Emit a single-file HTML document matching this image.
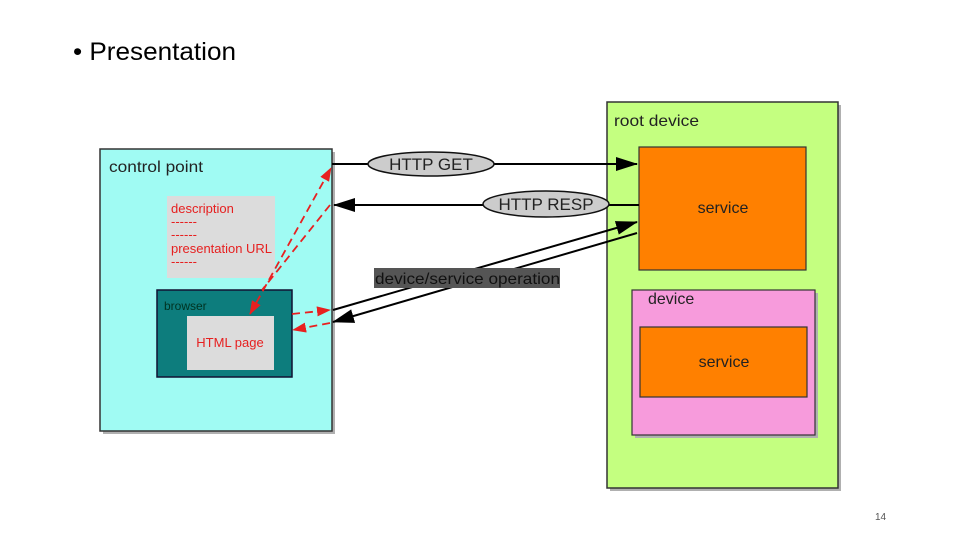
<!DOCTYPE html>
<html><head><meta charset="utf-8"><style>
html,body{margin:0;padding:0;background:#fff;}
svg{display:block;}
text{font-family:"Liberation Sans",sans-serif;}
</style></head><body>
<svg width="960" height="540" viewBox="0 0 960 540" xmlns="http://www.w3.org/2000/svg">
<defs>
<marker id="abig" markerWidth="22" markerHeight="14" refX="21" refY="7" orient="auto" markerUnits="userSpaceOnUse" viewBox="0 0 22 14"><path d="M0,0 L22,7 L0,14 z" fill="#000"/></marker>
<marker id="ar" markerWidth="14" markerHeight="10" refX="13" refY="5" orient="auto" markerUnits="userSpaceOnUse" viewBox="0 0 14 10"><path d="M0,0 L14,5 L0,10 z" fill="#e82020"/></marker>
<marker id="ars" markerWidth="14" markerHeight="10" refX="1" refY="5" orient="auto" markerUnits="userSpaceOnUse" viewBox="0 0 14 10"><path d="M14,0 L0,5 L14,10 z" fill="#e82020"/></marker>
</defs>
<text x="73" y="60" font-size="25" fill="#000" textLength="163" lengthAdjust="spacingAndGlyphs">• Presentation</text>
<text x="875" y="520" font-size="10" fill="#555" font-family="Liberation Serif">14</text>

<!-- control point -->
<rect x="103" y="152" width="232" height="282" fill="#b0b0b0"/>
<rect x="100" y="149" width="232" height="282" fill="#a0fbf3" stroke="#333" stroke-width="1.5"/>
<text x="109" y="172" font-size="16" fill="#222" textLength="94" lengthAdjust="spacingAndGlyphs">control point</text>
<rect x="167" y="196" width="108" height="82" fill="#dcdcdc"/>
<g font-size="13" fill="#e62020">
<text x="171" y="213">description</text>
<text x="171" y="226">------</text>
<text x="171" y="239">------</text>
<text x="171" y="253" textLength="101" lengthAdjust="spacingAndGlyphs">presentation URL</text>
<text x="171" y="266">------</text>
</g>
<rect x="157" y="290" width="135" height="87" fill="#0d7d7d" stroke="#113" stroke-width="1.5"/>
<text x="164" y="310" font-size="12" fill="#032">browser</text>
<rect x="187" y="316" width="87" height="54" fill="#dcdcdc"/>
<text x="230" y="347" font-size="13" fill="#e62020" text-anchor="middle">HTML page</text>

<!-- root device -->
<rect x="610" y="105" width="231" height="386" fill="#b0b0b0"/>
<rect x="607" y="102" width="231" height="386" fill="#c4ff80" stroke="#333" stroke-width="1.5"/>
<text x="614" y="126" font-size="16" fill="#222" textLength="85" lengthAdjust="spacingAndGlyphs">root device</text>
<rect x="639" y="147" width="167" height="123" fill="#ff8000" stroke="#333" stroke-width="1.2"/>
<text x="723" y="213" font-size="16" fill="#222" text-anchor="middle">service</text>
<rect x="635" y="293" width="183" height="145" fill="#b0b0b0"/>
<rect x="632" y="290" width="183" height="145" fill="#f79bdc" stroke="#333" stroke-width="1.2"/>
<text x="648" y="304" font-size="16" fill="#222">device</text>
<rect x="640" y="327" width="167" height="70" fill="#ff8000" stroke="#333" stroke-width="1.2"/>
<text x="724" y="367" font-size="16" fill="#222" text-anchor="middle">service</text>

<!-- HTTP arrows -->
<line x1="332" y1="164" x2="637" y2="164" stroke="#000" stroke-width="2" marker-end="url(#abig)"/>
<ellipse cx="431" cy="164" rx="63" ry="12" fill="#ccc" stroke="#111" stroke-width="1.5"/>
<text x="431" y="170" font-size="17" fill="#222" text-anchor="middle">HTTP GET</text>
<line x1="639" y1="205" x2="334" y2="205" stroke="#000" stroke-width="2" marker-end="url(#abig)"/>
<ellipse cx="546" cy="204" rx="63" ry="13" fill="#ccc" stroke="#111" stroke-width="1.5"/>
<text x="546" y="210" font-size="17" fill="#222" text-anchor="middle">HTTP RESP</text>

<!-- operation -->
<line x1="333" y1="310" x2="637" y2="222" stroke="#000" stroke-width="2" marker-end="url(#abig)"/>
<line x1="637" y1="233" x2="333" y2="322" stroke="#000" stroke-width="2" marker-end="url(#abig)"/>
<rect x="374" y="268" width="186" height="20" fill="#555"/>
<text x="375" y="284" font-size="16" fill="#111" textLength="185" lengthAdjust="spacingAndGlyphs">device/service operation</text>

<!-- red dashed -->
<g stroke="#e82020" stroke-width="1.8" stroke-dasharray="8,5" fill="none">
<line x1="250" y1="314" x2="331" y2="168" marker-start="url(#ars)" marker-end="url(#ar)"/>
<line x1="330" y1="205" x2="262" y2="290"/>
<line x1="292" y1="314" x2="330" y2="310" marker-end="url(#ar)"/>
<line x1="330" y1="323" x2="293" y2="330" marker-end="url(#ar)"/>
</g>
</svg>
</body></html>
